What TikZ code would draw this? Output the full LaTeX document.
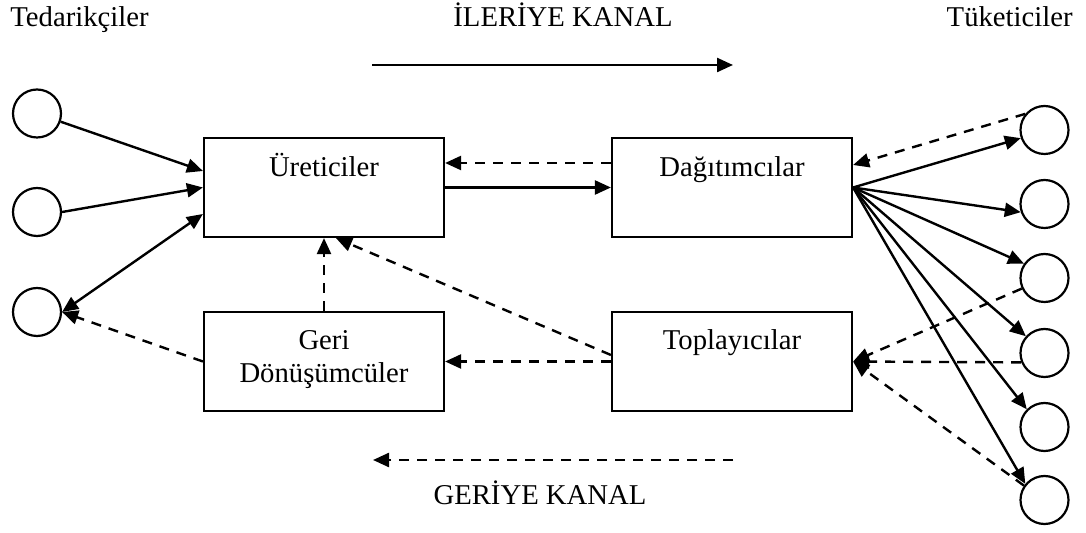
\documentclass[tikz,border=0pt]{standalone}
\usepackage{fontspec}
\setmainfont{Liberation Serif}
\usetikzlibrary{arrows.meta}
\begin{document}
\begin{tikzpicture}[x=0.5pt,y=-0.5pt,
  every node/.style={font=\fontsize{14.35}{16.5}\selectfont},
  party/.style={draw,circle,line width=1.1pt,minimum size=24pt,inner sep=0pt},
  stagebox/.style={draw,rectangle,line width=1.1pt,minimum width=120pt,minimum height=49.5pt,inner sep=0pt},
  lbl/.style={inner sep=0pt,anchor=base},
  tip/.tip={Triangle[length=8pt,width=7pt]},
  flow/.style={line width=1.2pt,-tip},
  twoway/.style={line width=1.2pt,tip-tip},
  back/.style={flow,dash pattern=on 5pt off 4pt},
]
\useasboundingbox (0,0) rectangle (1086,533);

% suppliers (left) and consumers (right)
\node[party] (s1) at (37,113.5) {};
\node[party] (s2) at (37,212) {};
\node[party] (s3) at (37,312) {};
\node[party] (c1) at (1044.5,130) {};
\node[party] (c2) at (1044.5,204) {};
\node[party] (c3) at (1044.5,278) {};
\node[party] (c4) at (1044.5,353) {};
\node[party] (c5) at (1044.5,427) {};
\node[party] (c6) at (1044.5,500) {};

% stage boxes
\node[stagebox] (ur) at (324,187.5) {};
\node[stagebox] (ds) at (732,187.5) {};
\node[stagebox] (gd) at (324,361.5) {};
\node[stagebox] (tp) at (732,361.5) {};

% box texts (a two-line node sits on the baseline of its last line)
\node[lbl] (urt) at (324,177) {Üreticiler};
\node[lbl] (dst) at (732,177) {Dağıtımcılar};
\node[lbl] (tpt) at (732,350) {Toplayıcılar};
\node[lbl,align=center] (gdt) at (324,383) {Geri\\Dönüşümcüler};

% headings
\node[lbl,anchor=base west] (sup) at (10,27) {Tedarikçiler};
\node[lbl,anchor=base east] (cons) at (1073,27) {Tüketiciler};
\node[lbl] (fwd) at (563,27) {İLERİYE KANAL};
\node[lbl] (rev) at (540,504) {GERİYE KANAL};

% channel direction arrows
\coordinate (fa) at (372,65);
\coordinate (fb) at (733,65);
\coordinate (ra) at (733,460);
\coordinate (rb) at (373,460);
\draw[flow] (fa) -- (fb);
\draw[back] (ra) -- (rb);

% suppliers to producers
\draw[flow] (s1) -- ([yshift=8.25pt]ur.west);
\draw[flow] (s2.east) -- (ur.west);
\draw[twoway] (s3.east) -- ([yshift=-13.25pt]ur.west);

% forward flow
\draw[flow] (ur.east) -- (ds.west);
\draw[flow] (ds.east) -- (c1.199.5);
\draw[flow] (ds.east) -- (c2.199.5);
\draw[flow] (ds.east) -- (c3.145);
\draw[flow] (ds.east) -- (c4.138);
\draw[flow] (ds.east) -- (c5.135);
\draw[flow] (ds.east) -- (c6.140);

% reverse flow
\draw[back] ([yshift=12.25pt]ds.west) -- ([yshift=12.25pt]ur.east);
\draw[back] (c1.140) -- ([yshift=11.25pt]ds.east);
\draw[back] (c3.205) -- (tp.east);
\draw[back] (c4.202) -- (tp.east);
\draw[back] (c6.145) -- (tp.east);
\draw[back] (tp.west) -- (gd.east);
\draw[back] ([yshift=3.25pt]tp.west) -- ([xshift=6pt]ur.south);
\draw[back] (gd.north) -- (ur.south);
\draw[back] (gd.west) -- (s3.east);
\end{tikzpicture}
\end{document}
